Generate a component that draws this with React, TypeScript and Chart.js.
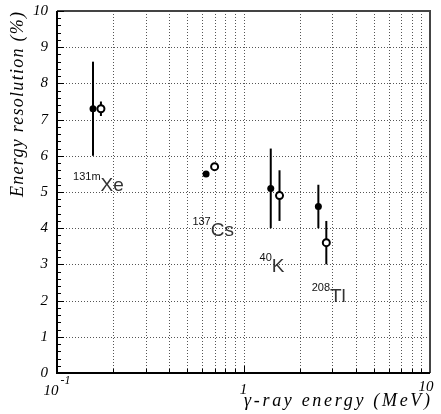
import React, { useEffect, useRef } from 'react';
import { Chart, registerables } from 'chart.js';

Chart.register(...registerables);

// Filled markers
const filledEnergy = [0.156, 0.63, 1.4, 2.52];
const filledRes = [7.3, 5.5, 5.1, 4.6];
const filledLow = [6.0, 5.5, 4.0, 4.0];
const filledHigh = [8.6, 5.5, 6.2, 5.2];
// Open markers
const openEnergy = [0.172, 0.7, 1.56, 2.78];
const openRes = [7.3, 5.7, 4.9, 3.6];
const openLow = [7.1, 5.7, 4.2, 3.0];
const openHigh = [7.5, 5.7, 5.6, 4.2];

// Isotope annotations
const isoMass = ['131m', '137', '40', '208'];
const isoElem = ['Xe', 'Cs', 'K', 'Tl'];
const isoLabelE = [0.122, 0.532, 1.22, 2.32];
const isoLabelY = [5.03, 3.78, 2.79, 1.97];

// Tick labels
const yTickValues = [0, 1, 2, 3, 4, 5, 6, 7, 8, 9, 10];
const xTickValues = [0.1, 1, 10];
const xTickBase = ['10', '1', '10'];
const xTickExp = ['-1', '', ''];

const xTitle = 'γ-ray energy (MeV)';
const yTitle = 'Energy resolution (%)';

const X_MIN = 0.1;
const X_MAX = 10;
const Y_MIN = 0;
const Y_MAX = 10;

const SERIF = '"Liberation Serif", "Times New Roman", serif';
const SANS = '"Liberation Sans", Arial, sans-serif';

function fitSpacing(ctx: CanvasRenderingContext2D, text: string, width: number) {
  (ctx as any).letterSpacing = '0px';
  const w = ctx.measureText(text).width;
  const n = Array.from(text).length;
  const ls = n > 1 ? (width - w) / (n - 1) : 0;
  (ctx as any).letterSpacing = ls + 'px';
}

const rootPlugin = {
  id: 'rootStyle',
  beforeDatasetsDraw(chart: any) {
    const { ctx, chartArea: a, scales } = chart;
    const x = scales.x;
    const y = scales.y;
    ctx.save();
    // dotted grid
    ctx.strokeStyle = '#555';
    ctx.lineWidth = 1;
    ctx.setLineDash([1, 2]);
    for (let v = 1; v < Y_MAX; v++) {
      const py = Math.round(y.getPixelForValue(v)) + 0.5;
      ctx.beginPath();
      ctx.moveTo(a.left, py);
      ctx.lineTo(a.right, py);
      ctx.stroke();
    }
    for (let dec = X_MIN; dec < X_MAX; dec *= 10) {
      for (let m = 1; m <= 9; m++) {
        const v = dec * m;
        if (v <= X_MIN * 1.0001 || v >= X_MAX * 0.9999) continue;
        const px = Math.round(x.getPixelForValue(v)) + 0.5;
        ctx.beginPath();
        ctx.moveTo(px, a.top);
        ctx.lineTo(px, a.bottom);
        ctx.stroke();
      }
    }
    ctx.setLineDash([]);
    // error bars
    ctx.strokeStyle = '#000';
    ctx.lineWidth = 2;
    const drawBars = (es: number[], lo: number[], hi: number[]) => {
      es.forEach((e, i) => {
        if (hi[i] - lo[i] <= 0) return;
        const px = x.getPixelForValue(e);
        ctx.beginPath();
        ctx.moveTo(px, y.getPixelForValue(lo[i]));
        ctx.lineTo(px, y.getPixelForValue(hi[i]));
        ctx.stroke();
      });
    };
    drawBars(filledEnergy, filledLow, filledHigh);
    drawBars(openEnergy, openLow, openHigh);
    ctx.restore();
  },
  afterDatasetsDraw(chart: any) {
    const { ctx, chartArea: a, scales } = chart;
    const x = scales.x;
    const y = scales.y;
    ctx.save();
    // frame
    ctx.lineWidth = 2;
    ctx.strokeStyle = '#444';
    ctx.beginPath();
    ctx.moveTo(a.left, a.top);
    ctx.lineTo(a.right, a.top);
    ctx.lineTo(a.right, a.bottom);
    ctx.stroke();
    ctx.strokeStyle = '#000';
    ctx.beginPath();
    ctx.moveTo(a.left, a.top);
    ctx.lineTo(a.left, a.bottom);
    ctx.lineTo(a.right, a.bottom);
    ctx.stroke();

    // y ticks
    ctx.lineWidth = 1;
    for (let i = 0; i <= 50; i++) {
      const v = i * 0.2;
      const py = Math.round(y.getPixelForValue(v)) + 0.5;
      const len = i % 5 === 0 ? 7 : 4;
      ctx.beginPath();
      ctx.moveTo(a.left, py);
      ctx.lineTo(a.left + len, py);
      ctx.stroke();
    }
    // x ticks
    for (let dec = X_MIN; dec < X_MAX; dec *= 10) {
      for (let m = 1; m <= 9; m++) {
        const v = dec * m;
        if (v <= X_MIN * 1.0001) continue;
        const px = Math.round(x.getPixelForValue(v)) + 0.5;
        const len = m === 1 ? 7 : 4;
        ctx.beginPath();
        ctx.moveTo(px, a.bottom);
        ctx.lineTo(px, a.bottom - len);
        ctx.stroke();
      }
    }

    // y tick labels
    ctx.fillStyle = '#000';
    ctx.font = `italic 15px ${SERIF}`;
    ctx.textAlign = 'right';
    ctx.textBaseline = 'middle';
    yTickValues.forEach((v) => {
      ctx.fillText(String(v), a.left - 9, y.getPixelForValue(v));
    });

    // x tick labels
    const xBaselines = [395, 394, 391];
    ctx.textBaseline = 'alphabetic';
    ctx.textAlign = 'left';
    xTickValues.forEach((v, i) => {
      ctx.font = `italic 15px ${SERIF}`;
      const bw = ctx.measureText(xTickBase[i]).width;
      ctx.font = `italic 12px ${SERIF}`;
      const ew = xTickExp[i] ? ctx.measureText(xTickExp[i]).width + 2 : 0;
      let start = x.getPixelForValue(v) - (bw + ew) / 2;
      if (i === xTickValues.length - 1) start -= 4;
      ctx.font = `italic 15px ${SERIF}`;
      ctx.fillText(xTickBase[i], start, xBaselines[i]);
      if (xTickExp[i]) {
        ctx.font = `italic 12px ${SERIF}`;
        ctx.fillText(xTickExp[i], start + bw + 2, 384);
      }
    });

    // axis titles
    ctx.font = `italic 18px ${SERIF}`;
    ctx.textAlign = 'left';
    fitSpacing(ctx, xTitle, 186);
    ctx.fillText(xTitle, a.right - 186, 406);
    ctx.save();
    ctx.translate(23, 197);
    ctx.rotate(-Math.PI / 2);
    ctx.font = `italic 18px ${SERIF}`;
    fitSpacing(ctx, yTitle, 185);
    ctx.fillText(yTitle, 0, 0);
    ctx.restore();
    (ctx as any).letterSpacing = '0px';

    // isotope labels
    isoElem.forEach((el, i) => {
      const px = x.getPixelForValue(isoLabelE[i]);
      const py = y.getPixelForValue(isoLabelY[i]);
      ctx.font = `11px ${SANS}`;
      ctx.fillStyle = '#111';
      ctx.fillText(isoMass[i], px, py - 11);
      const mw = ctx.measureText(isoMass[i]).width;
      ctx.font = `19px ${SANS}`;
      ctx.fillStyle = '#333';
      ctx.fillText(el, px + mw, py);
    });
    ctx.restore();
  },
};

export default function App() {
  const ref = useRef<HTMLCanvasElement>(null);
  useEffect(() => {
    if (!ref.current) return;
    const chart = new Chart(ref.current, {
      type: 'scatter',
      data: {
        datasets: [
          {
            label: 'filled',
            data: filledEnergy.map((e, i) => ({ x: e, y: filledRes[i] })),
            pointRadius: 3.5,
            pointBackgroundColor: '#000',
            pointBorderColor: '#000',
            pointBorderWidth: 0,
            showLine: false,
          },
          {
            label: 'open',
            data: openEnergy.map((e, i) => ({ x: e, y: openRes[i] })),
            pointRadius: 3.5,
            pointBackgroundColor: '#fff',
            pointBorderColor: '#000',
            pointBorderWidth: 2,
            showLine: false,
          },
        ],
      },
      options: {
        responsive: false,
        animation: false,
        layout: { padding: { top: 11, right: 11, left: 0, bottom: 0 } },
        plugins: {
          legend: { display: false },
          tooltip: { enabled: false },
        },
        scales: {
          x: {
            type: 'logarithmic',
            min: X_MIN,
            max: X_MAX,
            grid: { display: false },
            border: { display: false },
            ticks: { display: false },
            afterFit: (s: any) => {
              s.height = 41;
            },
          },
          y: {
            type: 'linear',
            min: Y_MIN,
            max: Y_MAX,
            grid: { display: false },
            border: { display: false },
            ticks: { display: false },
            afterFit: (s: any) => {
              s.width = 57;
            },
          },
        },
      },
      plugins: [rootPlugin],
    });
    return () => chart.destroy();
  }, []);
  return (
    <div style={{ position: 'fixed', left: 0, top: 0, width: 441, height: 414, background: '#fff' }}>
      <canvas ref={ref} width={441} height={414} style={{ display: 'block' }} />
    </div>
  );
}
